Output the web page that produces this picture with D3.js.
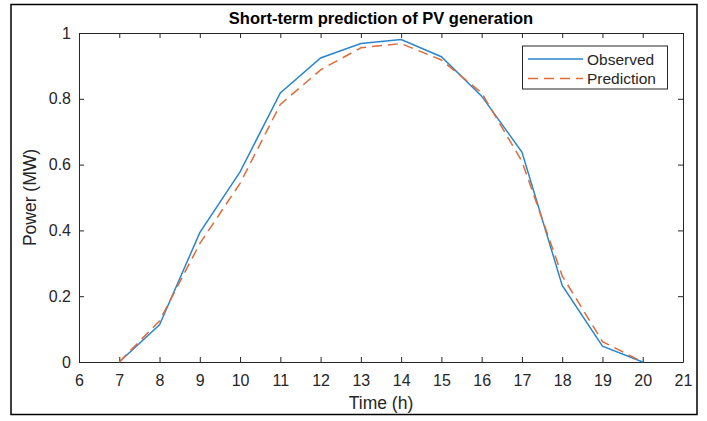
<!DOCTYPE html>
<html>
<head>
<meta charset="utf-8">
<script src="https://cdn.jsdelivr.net/npm/d3@7"></script>
<style>
  body { margin: 0; background: #fff; }
  svg text { font-family: "Liberation Sans", Arial, Helvetica, sans-serif; }
</style>
</head>
<body>
<svg id="chart" width="707" height="421"></svg>
<script>
// Hours of the day and the two series.
const hours = [7, 8, 9, 10, 11, 12, 13, 14, 15, 16, 17, 18, 19, 20];
const observed = [0, 0.113, 0.393, 0.578, 0.818, 0.924, 0.968, 0.98, 0.928, 0.808, 0.638, 0.233, 0.048, 0];
const predicted = [0, 0.125, 0.36, 0.543, 0.783, 0.888, 0.955, 0.968, 0.918, 0.818, 0.61, 0.262, 0.062, 0];
const xTicks = d3.range(6, 22);
const yTicks = [0, 0.2, 0.4, 0.6, 0.8, 1];
const seriesNames = ["Observed", "Prediction"];
const seriesColors = ["#2a86cc", "#df6b37"];

const svg = d3.select("#chart");
// plot box edges (window.top is taken, so prefix these)
const plotLeft = 79, plotRight = 683, plotTop = 33, plotBottom = 362;

const x = d3.scaleLinear().domain([6, 21]).range([plotLeft, plotRight]);
const y = d3.scaleLinear().domain([0, 1]).range([plotBottom, plotTop]);

// Outer figure frame
svg.append("rect")
  .attr("x", 11).attr("y", 4.5)
  .attr("width", 686).attr("height", 410)
  .attr("fill", "none").attr("stroke", "#000").attr("stroke-width", 1.5);

const axisColor = "#262626";

// Bottom axis, ticks inside
svg.append("g")
  .attr("transform", `translate(0,${plotBottom})`)
  .call(d3.axisBottom(x).tickValues(xTicks).tickFormat(d3.format("d")).tickSizeInner(-5).tickSizeOuter(0).tickPadding(12.5));
// Left axis
svg.append("g")
  .attr("transform", `translate(${plotLeft},0)`)
  .call(d3.axisLeft(y).tickValues(yTicks).tickFormat(d => d === 0 || d === 1 ? d : d3.format(".1f")(d)).tickSizeInner(-5).tickSizeOuter(0).tickPadding(8));
// Top and right mirror ticks
svg.append("g")
  .attr("transform", `translate(0,${plotTop})`)
  .call(d3.axisTop(x).tickValues(xTicks).tickFormat("").tickSizeInner(-5).tickSizeOuter(0));
svg.append("g")
  .attr("transform", `translate(${plotRight},0)`)
  .call(d3.axisRight(y).tickValues(yTicks).tickFormat("").tickSizeInner(-5).tickSizeOuter(0));

svg.selectAll(".domain").attr("stroke", axisColor).attr("stroke-width", 1);
svg.selectAll(".tick line").attr("stroke", axisColor);
svg.selectAll(".tick text").attr("fill", axisColor).attr("font-size", 16);

// Series lines
const line = d3.line().x((d, i) => x(hours[i])).y(d => y(d));
svg.append("path").datum(observed)
  .attr("d", line).attr("fill", "none")
  .attr("stroke", seriesColors[0]).attr("stroke-width", 1.5);
svg.append("path").datum(predicted)
  .attr("d", line).attr("fill", "none")
  .attr("stroke", seriesColors[1]).attr("stroke-width", 1.5)
  .attr("stroke-dasharray", "10,6");

// Title and axis labels
svg.append("text")
  .attr("x", (plotLeft + plotRight) / 2).attr("y", 24)
  .attr("text-anchor", "middle").attr("font-size", 16.5).attr("font-weight", "bold")
  .attr("fill", "#000")
  .text("Short-term prediction of PV generation");
svg.append("text")
  .attr("x", (plotLeft + plotRight) / 2).attr("y", 409)
  .attr("text-anchor", "middle").attr("font-size", 17.5).attr("fill", axisColor)
  .text("Time (h)");
svg.append("text")
  .attr("transform", `translate(36,${(plotTop + plotBottom) / 2}) rotate(-90)`)
  .attr("text-anchor", "middle").attr("font-size", 17.5).attr("fill", axisColor)
  .text("Power (MW)");

// Legend
const legend = svg.append("g");
legend.append("rect")
  .attr("x", 522.5).attr("y", 46)
  .attr("width", 145).attr("height", 43)
  .attr("fill", "#fff").attr("stroke", axisColor).attr("stroke-width", 1);
seriesNames.forEach((name, i) => {
  const ly = 59 + i * 19.5;
  legend.append("line")
    .attr("x1", 528).attr("x2", 583).attr("y1", ly).attr("y2", ly)
    .attr("stroke", seriesColors[i]).attr("stroke-width", 1.5)
    .attr("stroke-dasharray", i === 1 ? "10,6" : null);
  legend.append("text")
    .attr("x", 587).attr("y", ly + 5.5)
    .attr("font-size", 15.5).attr("fill", axisColor)
    .text(name);
});
</script>
</body>
</html>
